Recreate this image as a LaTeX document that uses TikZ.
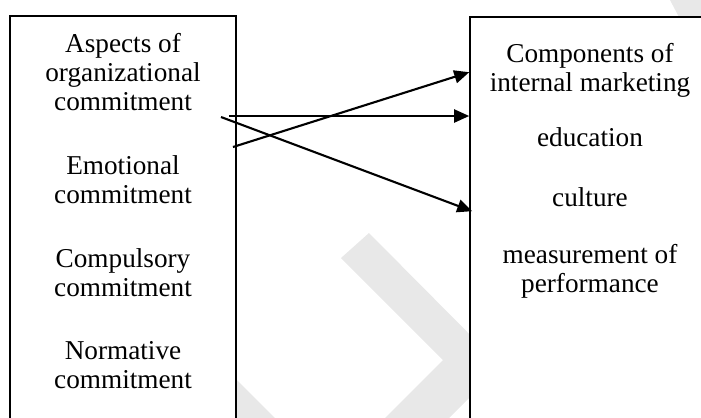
\documentclass[tikz,border=0pt]{standalone}
\usepackage{fontspec}
\setmainfont{Liberation Serif}
\usetikzlibrary{arrows.meta,positioning,fit,calc}
\definecolor{wmgrey}{rgb}{0.91,0.91,0.91}

\begin{document}
\begin{tikzpicture}[
  x=0.02cm, y=-0.02cm,
  font=\fontsize{15.5}{16.6}\selectfont,
  panel/.style={draw=black, line width=0.9pt, fill=white, inner sep=0pt},
  lbl/.style={align=center, inner sep=1pt},
  link/.style={-{Triangle[length=0.3cm, width=0.26cm]}, line width=1.2pt}
]
\useasboundingbox (0,0) rectangle (701,417);
\clip (0,0) rectangle (701,417);

% --- watermark behind the panels ---
\fill[wmgrey] (341,258) -- (369,233) -- (501,366) -- (417,450) -- (353,450) -- (443,360) -- cycle;
\fill[wmgrey] (200,343) -- (290,433) -- (200,433) -- cycle;
\fill[wmgrey] (670,0) -- (690,38) -- (720,38) -- (720,0) -- cycle;

% --- panels (open at the bottom / right edge) ---
\node[panel, fit={(10,16) (236,440)}] (aspects) {};
\node[panel, fit={(470,17) (730,440)}] (comp) {};

% --- left column ---
\node[lbl] (asp) at (123,72) {Aspects of\\organizational\\commitment};
\node[lbl] (emo) at (123,180) {Emotional\\commitment};
\node[lbl] (cmp) at (123,273) {Compulsory\\commitment};
\node[lbl] (nrm) at (123,365) {Normative\\commitment};

% --- right column ---
\node[lbl] (head) at (590,70) {Components of\\internal marketing};
\node[lbl] (edu) at (590,137) {education};
\node[lbl] (cul) at (590,197) {culture};
\node[lbl] (perf) at (590,271) {measurement of\\performance};

% --- links ---
\coordinate (s1) at (233,147);
\coordinate (s2) at (229,116);
\coordinate (s3) at (221,117);
\draw[link] (s1) -- ($(comp.north west)+(0,56)$);
\draw[link] (s2) -- (s2 -| comp.west);
\draw[link] (s3) -- ($(comp.north west)+(3,195)$);

\end{tikzpicture}
\end{document}
